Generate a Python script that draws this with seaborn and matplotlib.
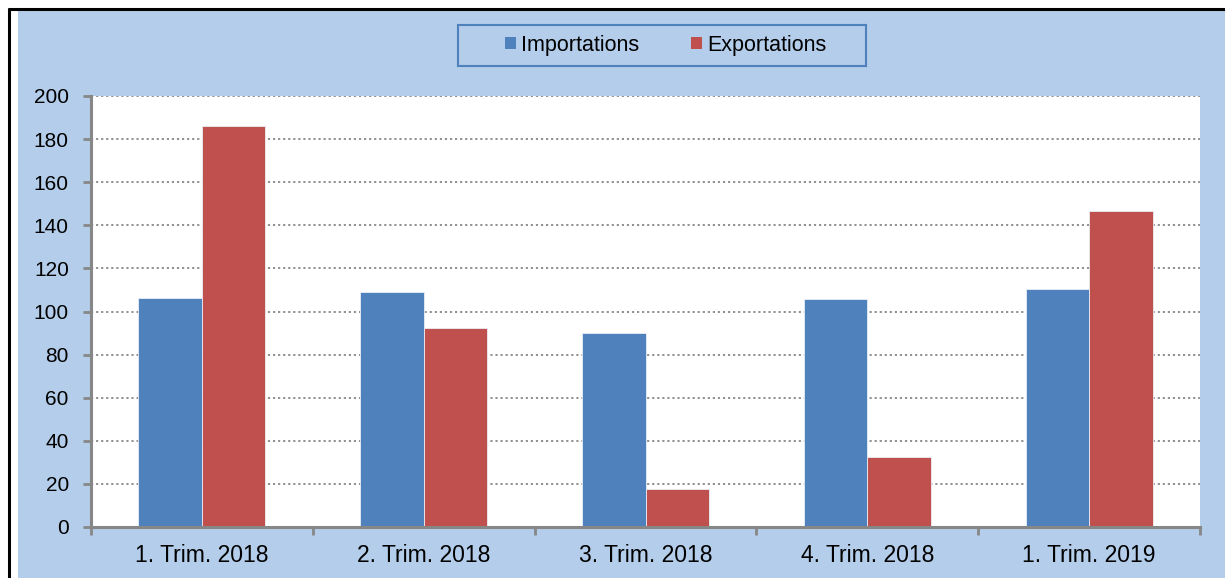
import numpy as np
import pandas as pd
import matplotlib.pyplot as plt
import seaborn as sns
from matplotlib.patches import Patch, Rectangle
from matplotlib.lines import Line2D

# data
quarters = ['1. Trim. 2018', '2. Trim. 2018', '3. Trim. 2018', '4. Trim. 2018', '1. Trim. 2019']
importations = [106.3, 109.2, 90.2, 106.0, 110.6]
exportations = [186.0, 92.3, 17.7, 32.6, 146.6]
series_names = ['Importations', 'Exportations']

COLORS = ['#4F81BD', '#C0504D']
BG = '#B3CDEA'
AXIS_GREY = '#878787'

sns.set_theme(style='white')
plt.rcParams['font.family'] = ['Liberation Sans', 'DejaVu Sans']
plt.rcParams['text.color'] = 'black'

df = pd.DataFrame({
    'quarter': quarters * 2,
    'value': importations + exportations,
    'series': [series_names[0]] * len(quarters) + [series_names[1]] * len(quarters),
})

fig = plt.figure(figsize=(12.25, 5.78), dpi=100, facecolor='white')

# light blue chart area with black frame on top and left
fig.patches.append(Rectangle((18 / 1225, 0), 1 - 18 / 1225, 1 - 10 / 578,
                             transform=fig.transFigure, facecolor=BG,
                             edgecolor='none', zorder=-10))
fig.lines.append(Line2D([9 / 1225, 9 / 1225], [0, 1 - 9 / 578], transform=fig.transFigure,
                        color='black', lw=2.2, zorder=-5))
fig.lines.append(Line2D([9 / 1225, 1], [1 - 9 / 578, 1 - 9 / 578], transform=fig.transFigure,
                        color='black', lw=2.2, zorder=-5))

ax = fig.add_axes([91 / 1225, 51 / 578, 1109 / 1225, 431 / 578])
ax.set_facecolor('white')

sns.barplot(data=df, x='quarter', y='value', hue='series', order=quarters,
            hue_order=series_names, palette=COLORS, width=0.573, gap=0,
            edgecolor='#e8eef6', linewidth=0.6, saturation=1, legend=False, ax=ax)

ax.set_xlim(-0.5, len(quarters) - 0.5)
ax.set_ylim(0, 200)
ax.set_yticks(np.arange(0, 201, 20))
ax.set_xlabel('')
ax.set_ylabel('')

ax.yaxis.grid(True, linestyle=(0, (1.2, 1.6)), color=AXIS_GREY, linewidth=1.3)
ax.set_axisbelow(True)

for side in ['top', 'right']:
    ax.spines[side].set_visible(False)
for side in ['left', 'bottom']:
    ax.spines[side].set_color(AXIS_GREY)
    ax.spines[side].set_linewidth(2.2)

ax.tick_params(axis='y', which='major', direction='out', length=6, width=2,
               color=AXIS_GREY, labelsize=15, pad=10, left=True, labelcolor='black')
ax.tick_params(axis='x', which='major', length=0, labelsize=16.5, pad=12, labelcolor='black')
ax.set_xticks(np.arange(-0.5, len(quarters), 1.0), minor=True)
ax.tick_params(axis='x', which='minor', direction='out', length=6, width=2,
               color=AXIS_GREY, bottom=True)

# legend box
fig.patches.append(Rectangle((458 / 1225, 1 - 66 / 578), 408 / 1225, 41 / 578,
                             transform=fig.transFigure, facecolor=BG,
                             edgecolor='#4F81BD', linewidth=1.5, zorder=2))
handles = [Patch(facecolor=c, edgecolor='none') for c in COLORS]
leg = fig.legend(handles, series_names, loc='center', bbox_to_anchor=(666 / 1225, 1 - 45.5 / 578),
                 ncol=2, frameon=False, fontsize=15.5, handlelength=0.5, handleheight=0.5,
                 handletextpad=0.25, columnspacing=2.4, labelcolor='black')
leg.set_zorder(3)

fig.savefig('out.png', dpi=100, facecolor=fig.get_facecolor())
